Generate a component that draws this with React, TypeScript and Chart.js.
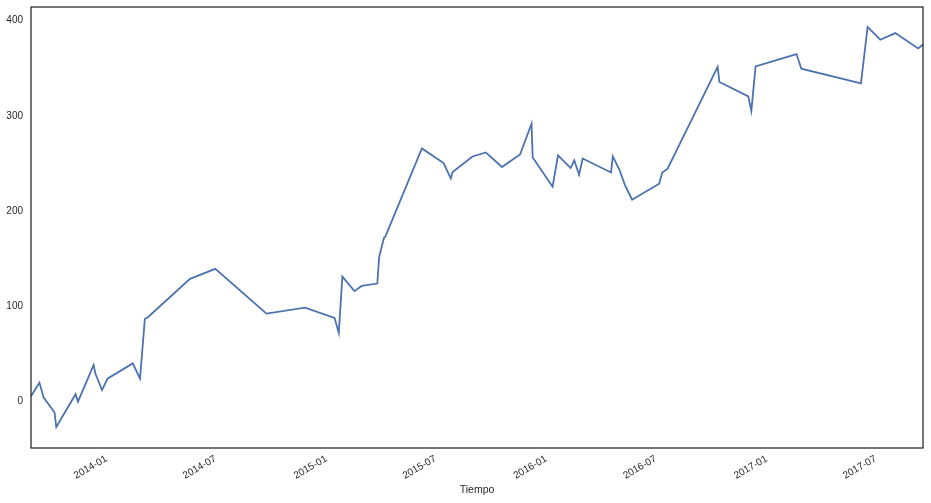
import React, { useEffect, useRef } from 'react';
import { Chart, registerables } from 'chart.js';

Chart.register(...registerables);

const dates: string[] = [
  '2013-08-27', '2013-09-10', '2013-09-17', '2013-10-05', '2013-10-08', '2013-11-09',
  '2013-11-13', '2013-12-09', '2013-12-12', '2013-12-23', '2014-01-01', '2014-02-12',
  '2014-02-24', '2014-03-04', '2014-03-10', '2014-05-18', '2014-06-29', '2014-09-22',
  '2014-11-25', '2015-01-13', '2015-01-20', '2015-01-26', '2015-02-15', '2015-02-27',
  '2015-03-25', '2015-03-28', '2015-04-05', '2015-04-07', '2015-06-07', '2015-07-13',
  '2015-07-25', '2015-07-28', '2015-08-30', '2015-09-21', '2015-10-18', '2015-11-17',
  '2015-12-06', '2015-12-08', '2016-01-10', '2016-01-19', '2016-02-09', '2016-02-15',
  '2016-02-23', '2016-02-29', '2016-04-16', '2016-04-19', '2016-04-30', '2016-05-09',
  '2016-05-21', '2016-07-05', '2016-07-10', '2016-07-19', '2016-10-10', '2016-10-13',
  '2016-11-30', '2016-12-05', '2016-12-12', '2017-02-18', '2017-02-26', '2017-06-05',
  '2017-06-16', '2017-07-07', '2017-08-01', '2017-09-08', '2017-09-16',
];

const values: number[] = [
  5.5, 19.8, 4, -11.4, -26.8, 7.6,
  -0.2, 38.4, 29, 12, 24, 40,
  24, 86.7, 89, 128.8, 139.3, 92.3,
  98.6, 87.8, 72, 131.2, 115.9, 121.4,
  123.9, 151.6, 171.9, 172.6, 265.8, 250.5,
  234.3, 241, 257.4, 261.6, 246.3, 259.5,
  291.8, 256.4, 225.6, 258.5, 245.2, 253.2,
  238.2, 255.3, 240.6, 257.4, 243.4, 227.6,
  211.9, 228.7, 240.6, 244.5, 351.4, 335.6,
  320.5, 305.1, 352, 365, 349.6, 334.2,
  393.5, 380, 387, 370.8, 375,
];

const xTickLabels: string[] = ['2014-01', '2014-07', '2015-01', '2015-07', '2016-01', '2016-07', '2017-01', '2017-07'];
const yTicks: number[] = [0, 100, 200, 300, 400];
const xTitle = 'Tiempo';

const toTs = (s: string) => {
  const [y, m, d] = s.split('-').map(Number);
  return Date.UTC(y, m - 1, d || 1);
};

const TEXT = '#262626';
const FONT = '"Liberation Sans", Arial, sans-serif';

const framePlugin = {
  id: 'frame',
  afterDatasetsDraw(chart: any) {
    const { ctx, chartArea } = chart;
    const { left, top, right, bottom } = chartArea;
    ctx.save();
    ctx.strokeStyle = TEXT;
    ctx.lineWidth = 1.25;
    ctx.strokeRect(left, top, right - left, bottom - top);
    ctx.restore();
  },
};

export default function App() {
  const ref = useRef<HTMLCanvasElement | null>(null);

  useEffect(() => {
    if (!ref.current) return;
    const data = dates.map((d, i) => ({ x: toTs(d), y: values[i] }));
    const chart = new Chart(ref.current, {
      type: 'line',
      data: {
        datasets: [
          {
            data,
            borderColor: '#4c72b0',
            borderWidth: 1.8,
            pointRadius: 0,
            tension: 0,
            fill: false,
          },
        ],
      },
      options: {
        animation: false,
        responsive: false,
        devicePixelRatio: 1,
        layout: { padding: { left: 0, right: 8, top: 7, bottom: 0 } },
        plugins: { legend: { display: false }, tooltip: { enabled: false } },
        scales: {
          x: {
            type: 'linear',
            min: toTs(dates[0]),
            max: toTs(dates[dates.length - 1]),
            afterBuildTicks: (s: any) => {
              s.ticks = xTickLabels.map((l) => ({ value: toTs(l) }));
            },
            afterFit: (s: any) => {
              s.height = 55;
              s.paddingLeft = 0;
              s.paddingRight = 0;
            },
            grid: { display: false, drawTicks: false },
            border: { display: false },
            ticks: {
              autoSkip: false,
              minRotation: 30,
              maxRotation: 30,
              padding: 5,
              labelOffset: -1,
              color: TEXT,
              font: { family: FONT, size: 10 },
              callback: (_v: any, i: number) => xTickLabels[i],
            },
            title: {
              display: true,
              text: xTitle,
              color: TEXT,
              font: { family: FONT, size: 10.5 },
              padding: { top: 0, bottom: 7 },
            },
          },
          y: {
            type: 'linear',
            min: -48.9,
            max: 414.4,
            afterBuildTicks: (s: any) => {
              s.ticks = yTicks.map((v) => ({ value: v }));
            },
            afterFit: (s: any) => {
              s.width = 31;
              s.paddingTop = 0;
              s.paddingBottom = 0;
            },
            grid: { display: false, drawTicks: false },
            border: { display: false },
            ticks: {
              padding: 8,
              color: TEXT,
              font: { family: FONT, size: 10 },
              callback: (v: any) => String(v),
            },
          },
        },
      },
      plugins: [framePlugin],
    });
    return () => chart.destroy();
  }, []);

  return (
    <div style={{ position: 'absolute', left: 0, top: 0, width: 931, height: 503, background: '#fff' }}>
      <canvas ref={ref} width={931} height={503} style={{ display: 'block' }} />
    </div>
  );
}
